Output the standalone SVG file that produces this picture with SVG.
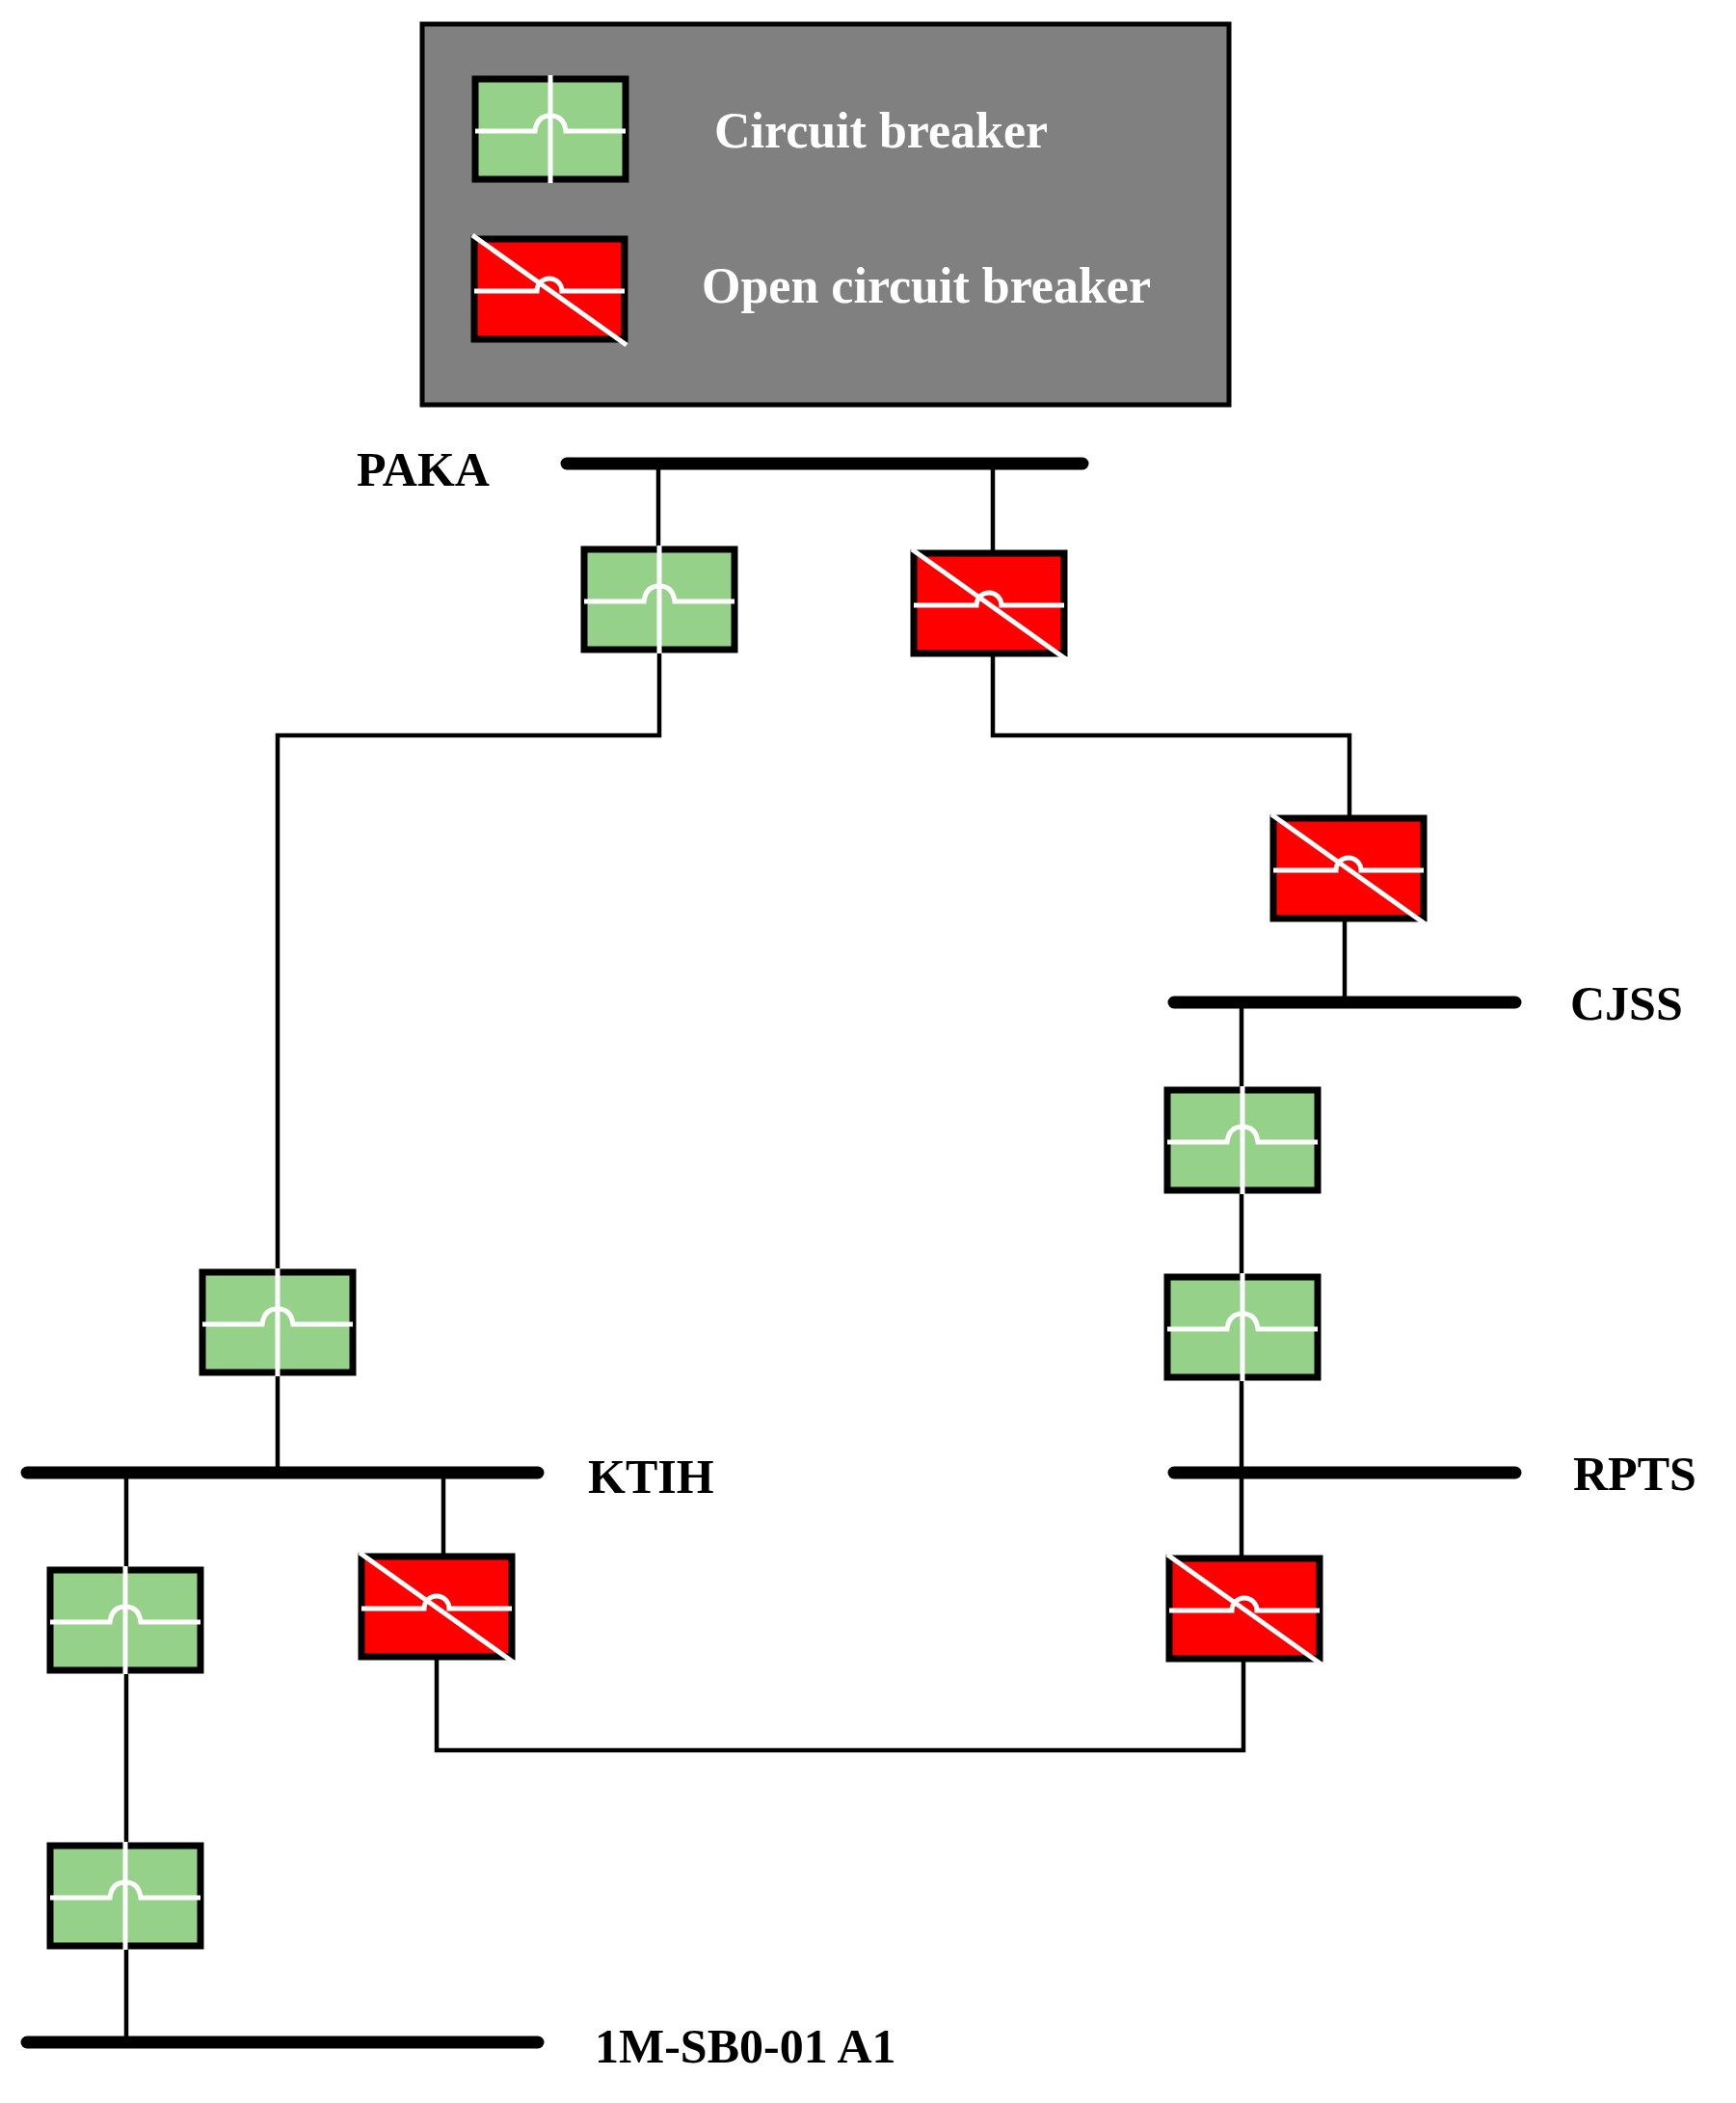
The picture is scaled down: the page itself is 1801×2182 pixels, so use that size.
<svg xmlns="http://www.w3.org/2000/svg" xmlns:xlink="http://www.w3.org/1999/xlink" width="1801" height="2182" viewBox="0 0 1801 2182">
<style>
.bus{stroke:#000;stroke-width:13;stroke-linecap:round;fill:none}
.wire{stroke:#000;stroke-width:4.5;fill:none}
.lbl{font-family:"Liberation Serif",serif;font-weight:bold;font-size:50px;fill:#000}
.leg{font-family:"Liberation Serif",serif;font-weight:bold;font-size:52px;fill:#fff}
.w{stroke:#fff;stroke-width:5;fill:none}
</style>
<defs>
<g id="cb">
<rect x="-78" y="-52" width="156" height="104" fill="#96d18a" stroke="#000" stroke-width="7"/>
<path class="w" d="M-78 2 H-16 Q-14 -14 0 -14 Q14 -14 16 2 H78"/>
<line class="w" x1="0" y1="-56" x2="0" y2="56" stroke-width="4"/>
</g>
<g id="ocb">
<rect x="-78" y="-52" width="156" height="104" fill="#ff0000" stroke="#000" stroke-width="7"/>
<path class="w" d="M-78 2 H-13 A13 13 0 0 1 13 2 H78"/>
<line class="w" x1="-80" y1="-56" x2="80" y2="58" stroke-width="4"/>
</g>
</defs>
<g id="legend">
<rect x="438" y="25" width="837" height="395" fill="#808080" stroke="#000" stroke-width="5"/>
<use xlink:href="#cb" transform="translate(571,134)"/>
<text class="leg" x="741" y="153">Circuit breaker</text>
<use xlink:href="#ocb" transform="translate(570,300)"/>
<text class="leg" x="728" y="314">Open circuit breaker</text>
</g>
<g id="connectors">
<line class="wire" x1="683" y1="481" x2="683" y2="569"/>
<polyline class="wire" points="684,675 684,763 288,763 288,1320"/>
<line class="wire" x1="288" y1="1425" x2="288" y2="1528"/>
<line class="wire" x1="1030" y1="481" x2="1030" y2="573"/>
<polyline class="wire" points="1030,680 1030,763 1400,763 1400,848"/>
<line class="wire" x1="1395" y1="954" x2="1395" y2="1040"/>
<line class="wire" x1="1288" y1="1040" x2="1288" y2="1616"/>
<polyline class="wire" points="1290,1723 1290,1816 453,1816 453,1720"/>
<line class="wire" x1="460" y1="1528" x2="460" y2="1614"/>
<line class="wire" x1="131" y1="1528" x2="131" y2="2119"/>
</g>
<g id="bus-PAKA"><line class="bus" x1="588" y1="481" x2="1123" y2="481"/><text class="lbl" x="370" y="504">PAKA</text></g>
<g id="bus-CJSS"><line class="bus" x1="1218" y1="1040" x2="1572" y2="1040"/><text class="lbl" x="1629" y="1058">CJSS</text></g>
<g id="bus-KTIH"><line class="bus" x1="28" y1="1528" x2="558" y2="1528"/><text class="lbl" x="610" y="1549">KTIH</text></g>
<g id="bus-RPTS"><line class="bus" x1="1218" y1="1528" x2="1572" y2="1528"/><text class="lbl" x="1632" y="1546">RPTS</text></g>
<g id="bus-1M"><line class="bus" x1="28" y1="2119" x2="558" y2="2119"/><text class="lbl" x="617" y="2140">1M-SB0-01 A1</text></g>
<g id="cb1"><use xlink:href="#cb" transform="translate(684,622)"/></g>
<g id="cb2"><use xlink:href="#ocb" transform="translate(1026,626)"/></g>
<g id="cb3"><use xlink:href="#ocb" transform="translate(1399,901)"/></g>
<g id="cb4"><use xlink:href="#cb" transform="translate(288,1372)"/></g>
<g id="cb5"><use xlink:href="#cb" transform="translate(1289,1183)"/></g>
<g id="cb6"><use xlink:href="#cb" transform="translate(1289,1377)"/></g>
<g id="cb7"><use xlink:href="#ocb" transform="translate(1291,1669)"/></g>
<g id="cb8"><use xlink:href="#ocb" transform="translate(453,1667)"/></g>
<g id="cb9"><use xlink:href="#cb" transform="translate(130,1681)"/></g>
<g id="cb10"><use xlink:href="#cb" transform="translate(130,1967)"/></g>
</svg>
